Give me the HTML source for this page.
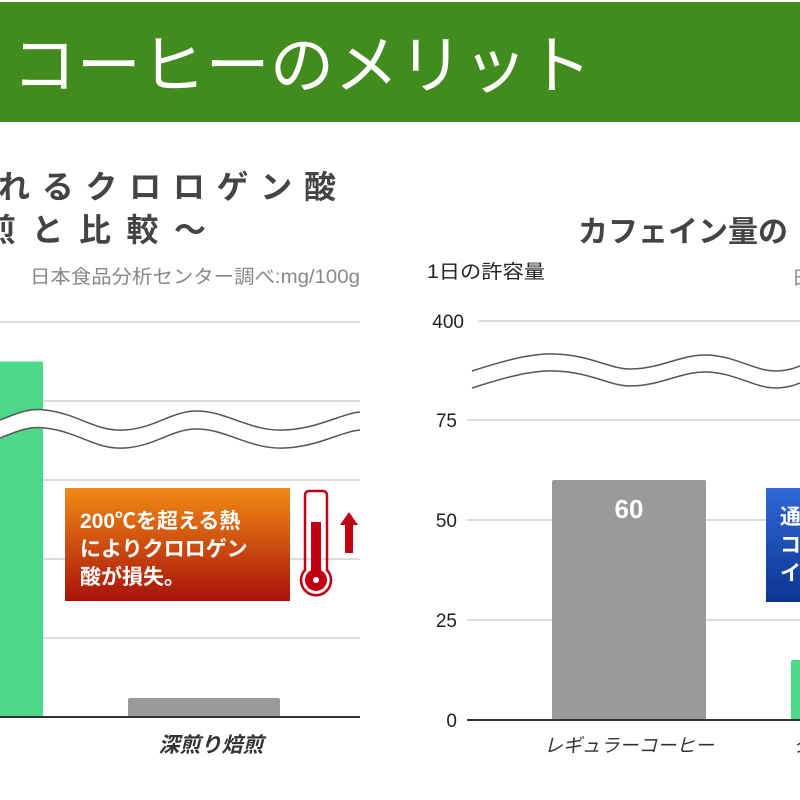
<!DOCTYPE html>
<html><head><meta charset="utf-8"><style>
body{margin:0;width:800px;height:800px;overflow:hidden;background:#fff;font-family:"Liberation Sans","Noto Sans CJK JP",sans-serif;}
svg{display:block}
</style></head><body>
<svg id="c" width="800" height="800" xmlns="http://www.w3.org/2000/svg">
<defs>
<linearGradient id="og" x1="0" y1="0" x2="0" y2="1"><stop offset="0" stop-color="#f28a14"/><stop offset="1" stop-color="#a8120a"/></linearGradient>
<linearGradient id="bg" x1="0" y1="0" x2="0" y2="1"><stop offset="0" stop-color="#2f68d8"/><stop offset="1" stop-color="#0b3592"/></linearGradient>
</defs>
<rect x="0" y="2" width="800" height="120" fill="#428c1e"/>
<text x="-58" y="88" font-size="64" fill="#fff" font-family="'Noto Sans CJK JP',sans-serif">ヒ</text>
<text x="12" y="88" font-size="64" fill="#fff" textLength="580" lengthAdjust="spacingAndGlyphs" font-family="'Noto Sans CJK JP',sans-serif">コーヒーのメリット</text>

<text x="-2" y="198" font-size="32" font-weight="bold" fill="#444" textLength="338" lengthAdjust="spacing" font-family="'Noto Sans CJK JP',sans-serif">れるクロロゲン酸</text>
<text x="-16" y="241" font-size="32" font-weight="bold" fill="#444" textLength="222" lengthAdjust="spacing" font-family="'Noto Sans CJK JP',sans-serif">煎と比較～</text>
<text x="30" y="283" font-size="19" fill="#888" textLength="330" lengthAdjust="spacingAndGlyphs">日本食品分析センター調べ:mg/100g</text>

<text x="578" y="242" font-size="30" font-weight="bold" fill="#444" font-family="'Noto Sans CJK JP',sans-serif">カフェイン量の</text>
<text x="427" y="278" font-size="19" fill="#222" textLength="118" lengthAdjust="spacingAndGlyphs">1日の許容量</text>
<text x="792" y="284" font-size="19" fill="#888">日</text>
<g id="left"></g>
<g id="right"></g>
</svg>
<script>
// Left chart data (chlorogenic acid, broken axis)
const leftCats = ["浅煎り焙煎", "深煎り焙煎"];
const leftVals = [225, 12];
const leftTicks = [0, 50, 100, 150, 200, 250];
// Right chart data (caffeine)
const rightCats = ["レギュラーコーヒー", "クロロゲン酸コーヒー"];
const rightVals = [60, 15];
const rightTickLabels = ["0", "25", "50", "75", "400"];
const rightTickVals = [0, 25, 50, 75, 400];

const NS = "http://www.w3.org/2000/svg";
function mk(parent, tag, attrs, txt){const e=document.createElementNS(NS,tag);for(const k in attrs)e.setAttribute(k,attrs[k]);if(txt!==undefined)e.textContent=txt;parent.appendChild(e);return e;}

// LEFT
const L = document.getElementById('left');
const ly = v => 717 - v * (395/250);
const lx = i => [-70, 128][i];
leftTicks.forEach((t,i)=>{ if(t===0) return;
  const g=mk(L,'line',{x1:0,x2:360,y1:ly(t),y2:ly(t),stroke:'#d0d0d0','stroke-width':1.5});
  
  
});
const lcolors=['#4cd98a','#9a9a9a'];
leftVals.forEach((v,i)=>{
  const r=mk(L,'rect',{x:lx(i),y:ly(v),width:[113,152][i],height:717-ly(v),fill:lcolors[i],rx:2});
  
  
});
const W=(o)=>`M0,${420+o} C20,${412+o} 30,${408+o} 45,${410+o} C80,${414+o} 95,${432+o} 125,${430+o} C155,${428+o} 170,${412+o} 195,${411+o} C225,${410+o} 250,${432+o} 285,${430+o} C320,${428+o} 340,${414+o} 360,${412+o}`;
const lw=mk(L,'path',{d:W(0)+' L360,430 C340,432 320,446 285,448 C250,450 225,428 195,429 C170,430 155,446 125,448 C95,450 80,432 45,428 C30,426 20,430 0,438 Z',fill:'#fff',stroke:'none'});


[0,18].forEach(o=>{
  const p=mk(L,'path',{d:W(o),fill:'none',stroke:'#555','stroke-width':1.5});
  
  
});
const lb=mk(L,'line',{x1:0,x2:360,y1:717,y2:717,stroke:'#333','stroke-width':2});


const lxl=mk(L,'text',{x:211,y:752,'font-size':21,'font-weight':'bold','font-style':'italic',fill:'#333','text-anchor':'middle'},leftCats[1]);


// callout
const ob=mk(L,'rect',{x:65,y:488,width:225,height:113,fill:'url(#og)'});


["200℃を超える熱","によりクロロゲン","酸が損失。"].forEach((s,i)=>{
  const t=mk(L,'text',{x:80,y:528+i*28,'font-size':21,'font-weight':'bold',fill:'#fff'},s);
  
  
});
const th=mk(L,'g',{});


mk(th,'path',{d:'M309,491 h14 a4,4 0 0 1 4,4 v75 a15,15 0 1 1 -22,0 v-75 a4,4 0 0 1 4,-4 z',fill:'none',stroke:'#c00012','stroke-width':2.5});
mk(th,'rect',{x:311,y:522,width:10,height:55,fill:'#c00012'});
mk(th,'circle',{cx:316,cy:580,r:11,fill:'#c00012'});
mk(th,'circle',{cx:316,cy:580,r:3,fill:'#fff'});
const ar=mk(L,'path',{d:'M349,512 l9,13 h-5 v28 h-8 v-28 h-5 z',fill:'#c00012'});



// RIGHT
const R=document.getElementById('right');
const ry = v => v<=75 ? 720 - v*4 : 321;
const rx = i => [552, 791][i];
rightTickVals.forEach((t,i)=>{
  const y=ry(t);
  if(t>0){const g=mk(R,'line',{x1:t===400?478:467,x2:800,y1:y,y2:y,stroke:'#d0d0d0','stroke-width':1.5});
  
  }
  const tl=mk(R,'text',{x:t===400?464:457,y:y+7,'font-size':19,fill:'#222','text-anchor':'end'},rightTickLabels[i]);
  
  
});
const rcolors=['#9a9a9a','#4cd98a'];
rightVals.forEach((v,i)=>{
  const r=mk(R,'rect',{x:rx(i),y:ry(v),width:154,height:720-ry(v),fill:rcolors[i],rx:2});
  
  
});
const vl=mk(R,'text',{x:rx(0)+77,y:ry(rightVals[0])+38,'font-size':26,'font-weight':'bold',fill:'#fff','text-anchor':'middle'},String(rightVals[0]));


[0,17].forEach(o=>{
  const p=mk(R,'path',{d:`M472,${371+o} C500,${362+o} 530,${353+o} 555,${354+o} C590,${355+o} 610,${369+o} 630,${369+o} C660,${369+o} 680,${355+o} 705,${355+o} C735,${355+o} 755,${372+o} 778,${371+o} C790,${370+o} 795,${368+o} 800,${366+o}`,fill:'none',stroke:'#555','stroke-width':1.5});
  
  
});
const rb=mk(R,'line',{x1:467,x2:800,y1:720,y2:720,stroke:'#333','stroke-width':2});


const rl=mk(R,'text',{x:629,y:752,'font-size':19,'font-style':'italic',fill:'#333','text-anchor':'middle',textLength:170,lengthAdjust:'spacingAndGlyphs'},rightCats[0]);


const rl2=mk(R,'text',{x:793,y:752,'font-size':19,'font-style':'italic',fill:'#333'},rightCats[1]);


const bb=mk(R,'rect',{x:766,y:488,width:40,height:114,fill:'url(#bg)'});


["通常のコーヒー","コーヒーの","インスタント"].forEach((s,i)=>{
  const t=mk(R,'text',{x:780,y:524+i*28,'font-size':21,'font-weight':'bold',fill:'#fff'},s);
  
  
});
</script>
</body></html>
